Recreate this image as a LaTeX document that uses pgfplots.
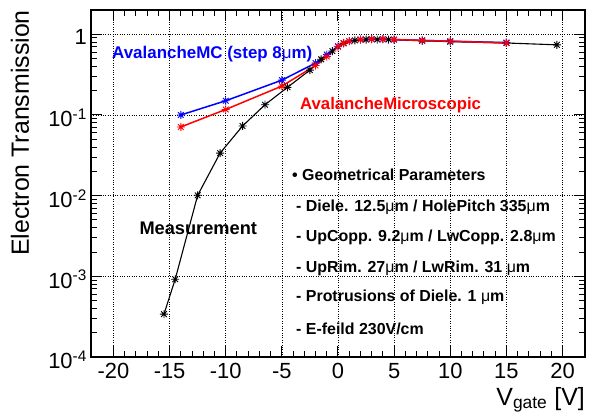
\documentclass[border=0pt]{standalone}
\usepackage{fontspec}
\setmainfont{Liberation Sans}
\usepackage{pgfplots}
\pgfplotsset{compat=1.18}
\pgfdeclareplotmark{rootstar}{%
  \pgfpathmoveto{\pgfqpoint{-\pgfplotmarksize}{0pt}}\pgfpathlineto{\pgfqpoint{\pgfplotmarksize}{0pt}}%
  \pgfpathmoveto{\pgfqpoint{0pt}{-\pgfplotmarksize}}\pgfpathlineto{\pgfqpoint{0pt}{\pgfplotmarksize}}%
  \pgfpathmoveto{\pgfqpoint{-.707\pgfplotmarksize}{-.707\pgfplotmarksize}}\pgfpathlineto{\pgfqpoint{.707\pgfplotmarksize}{.707\pgfplotmarksize}}%
  \pgfpathmoveto{\pgfqpoint{-.707\pgfplotmarksize}{.707\pgfplotmarksize}}\pgfpathlineto{\pgfqpoint{.707\pgfplotmarksize}{-.707\pgfplotmarksize}}%
  \pgfusepathqstroke}
\begin{document}
\begin{tikzpicture}
\path[use as bounding box] (-91bp,-60bp) rectangle (499bp,357bp);
\begin{axis}[
  at={(0,0)}, anchor=south west,
  scale only axis, width=494bp, height=347bp,
  xmin=-22, xmax=22, ymode=log, ymin=1e-4, ymax=2,
  xtick={-20,-15,-10,-5,0,5,10,15,20},
  xticklabels={-20,-15,-10,-5,0,5,10,15,20},
  minor x tick num=4,
  ytick={1e-4,1e-3,1e-2,1e-1,1},
  yticklabels={10\textsuperscript{-4},10\textsuperscript{-3},10\textsuperscript{-2},10\textsuperscript{-1},1},
  minor ytick={2e-4,3e-4,4e-4,5e-4,6e-4,7e-4,8e-4,9e-4,2e-3,3e-3,4e-3,5e-3,6e-3,7e-3,8e-3,9e-3,2e-2,3e-2,4e-2,5e-2,6e-2,7e-2,8e-2,9e-2,0.2,0.3,0.4,0.5,0.6,0.7,0.8,0.9,2},
  tick align=inside, tick pos=both,
  major tick length=11bp, minor tick length=6bp,
  every tick/.style={black, line width=1bp},
  grid=major,
  major grid style={black, dotted, line width=0.6bp},
  axis line style={line width=1.6bp},
  ticklabel style={font=\fontsize{22}{24}\selectfont},
  xticklabel style={inner sep=0pt, yshift=-6bp},
  yticklabel style={inner sep=0pt, xshift=-4bp, yshift=-3bp},
  clip=false,
]
\addplot[black, line width=1.1bp, mark=rootstar, mark size=4bp, mark options={line width=0.9bp}] coordinates {
 (-15.5,3.4e-4) (-14.5,9.2e-4) (-12.5,0.0101) (-10.5,0.0337) (-8.5,0.073) (-6.5,0.134)
 (-4.5,0.22) (-2.5,0.36) (-1.5,0.49) (-0.5,0.62) (0.5,0.77) (1.5,0.84) (2.5,0.86)
 (3.5,0.86) (4.5,0.86) (7.5,0.83) (10,0.81) (15,0.78) (19.5,0.74)};
\addplot[blue, line width=1.5bp, mark=rootstar, mark size=4bp, mark options={line width=0.9bp}] coordinates {
 (-14,0.100) (-10,0.150) (-5,0.27) (-2,0.44) (-1,0.56) (0,0.71) (1,0.82) (2,0.86)
 (3,0.87) (4,0.87) (5,0.86) (7.5,0.84) (10,0.82) (15,0.79)};
\addplot[red, line width=1.5bp, mark=rootstar, mark size=4bp, mark options={line width=0.9bp}] coordinates {
 (-14,0.071) (-10,0.117) (-5,0.228) (-2,0.41) (-1,0.53) (0,0.70) (0.5,0.78) (1,0.82) (2,0.86)
 (3,0.87) (4,0.87) (5,0.86) (7.5,0.84) (10,0.82) (15,0.78)};
\end{axis}
\begin{scope}[every node/.style={inner sep=0pt}]
\node[anchor=base west, text=blue, font=\fontsize{17}{19}\selectfont\bfseries] at (21bp,298.7bp) {AvalancheMC (step 8{\mdseries μ}m)};
\node[anchor=base west, text=red, font=\fontsize{16.8}{19}\selectfont\bfseries] at (209bp,247.7bp) {AvalancheMicroscopic};
\node[anchor=base west, font=\fontsize{18.3}{20}\selectfont\bfseries] at (48.3bp,122bp) {Measurement};
\begin{scope}[every node/.append style={anchor=base west, font=\fontsize{16}{18}\selectfont\bfseries}]
\node at (201bp,176bp) {• Geometrical Parameters};
\node at (205bp,145.3bp) {- Diele. 12.5{\mdseries μ}m / HolePitch 335{\mdseries μ}m};
\node at (205bp,115.3bp) {- UpCopp. 9.2{\mdseries μ}m / LwCopp. 2.8{\mdseries μ}m};
\node at (205bp,84.7bp) {- UpRim. 27{\mdseries μ}m / LwRim. 31 {\mdseries μ}m};
\node at (205bp,55.7bp) {- Protrusions of Diele. 1 {\mdseries μ}m};
\node at (205bp,23bp) {- E-feild 230V/cm};
\end{scope}
\node[anchor=base east, font=\fontsize{25}{28}\selectfont] at (494bp,-48bp) {V\textsubscript{gate} [V]};
\node[anchor=base east, rotate=90, font=\fontsize{25}{28}\selectfont] at (-62bp,347bp) {Electron Transmission};
\end{scope}
\end{tikzpicture}
\end{document}
